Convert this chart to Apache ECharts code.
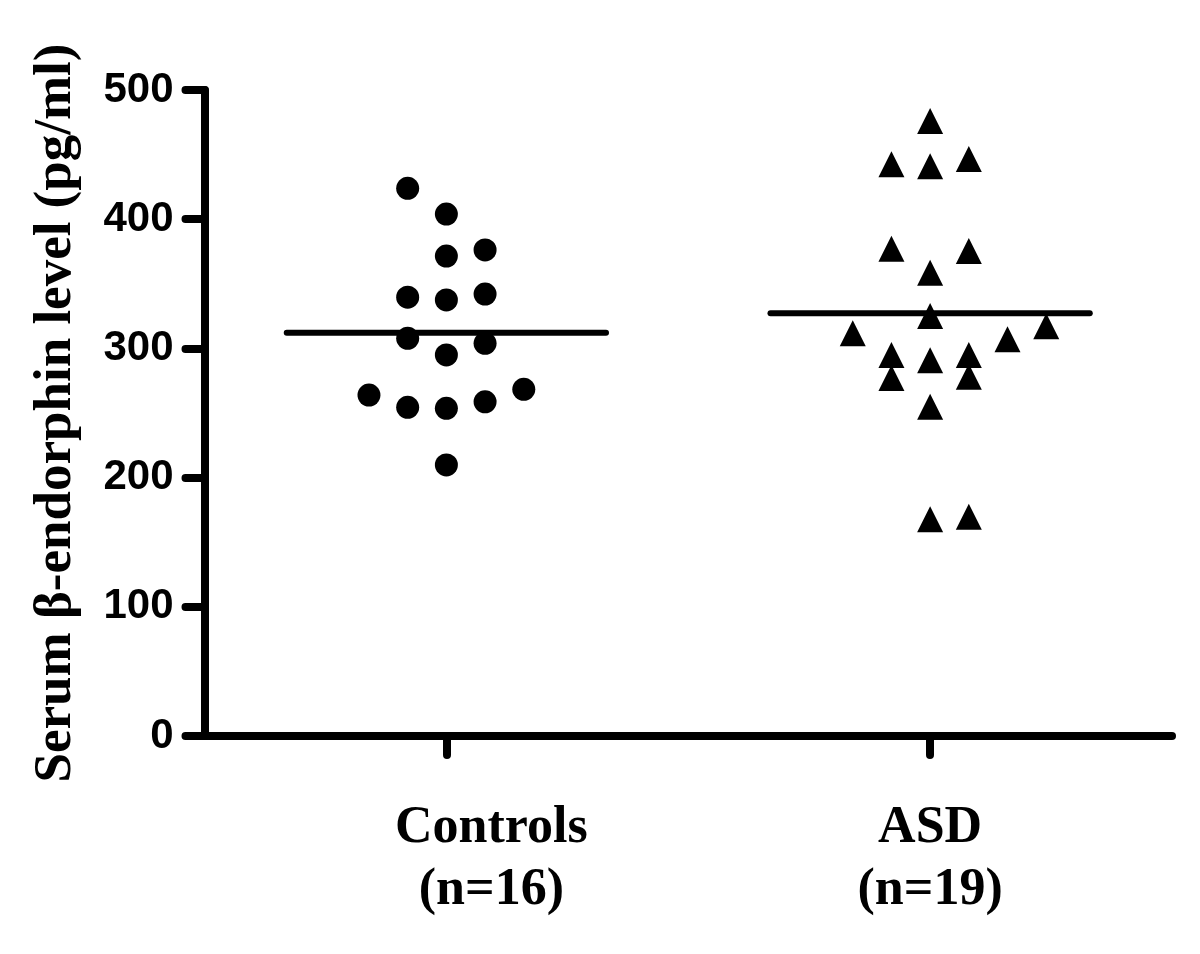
<!DOCTYPE html>
<html>
<head>
<meta charset="utf-8">
<script src="https://cdn.jsdelivr.net/npm/echarts@6/dist/echarts.min.js"></script>
<style>
html,body{margin:0;padding:0;background:#fff;}
#chart{width:1200px;height:954px;}
</style>
</head>
<body>
<div id="chart"></div>
<script>
// ---- data ----
const categories = ['Controls', 'ASD'];
const sampleSizes = [16, 19];
const yTicks = [0, 100, 200, 300, 400, 500];

const controlsValues = [423.9, 404.0, 371.5, 376.2, 339.6, 337.5, 342.1, 307.8, 294.9, 303.9, 263.9, 254.4, 253.6, 258.7, 268.3, 209.8];
const controlsColumn = [-1, 0, 0, 1, -1, 0, 1, -1, 0, 1, -2, -1, 0, 1, 2, 0];

const asdValues = [476.0, 442.6, 440.9, 446.6, 377.2, 375.4, 358.6, 325.1, 311.7, 294.9, 290.8, 294.9, 307.0, 317.1, 277.1, 278.1, 254.9, 167.7, 169.7];
const asdColumn = [0, -1, 0, 1, -1, 1, 0, 0, -2, -1, 0, 1, 2, 3, -1, 1, 0, 0, 1];

const groupMeans = [312.2, 327.2];

// ---- layout helpers ----
const COL_STEP = 0.08;   // horizontal spacing of jittered columns (category units)
const MEAN_HALF = 0.33;  // half-length of the mean bar (category units)

function points(values, cols, catIndex) {
  return values.map((v, i) => [catIndex + 1 + cols[i] * COL_STEP, v]);
}
function meanLine(catIndex) {
  const c = catIndex + 1;
  return [[c - MEAN_HALF, groupMeans[catIndex]], [c + MEAN_HALF, groupMeans[catIndex]]];
}

const chart = echarts.init(document.getElementById('chart'), null, {renderer: 'canvas'});
const serif = "'Liberation Serif', 'Times New Roman', serif";
const sans = "'Liberation Sans', Arial, sans-serif";
const axisLine = {show: true, lineStyle: {color: '#000', width: 8, cap: 'round'}};

chart.setOption({
  animation: false,
  backgroundColor: '#fff',
  grid: {left: 204.5, right: 28, top: 90, bottom: 218, containLabel: false},
  xAxis: [
    {
      type: 'category',
      data: categories,
      boundaryGap: true,
      axisLine: axisLine,
      axisTick: {show: true, alignWithLabel: true, length: 19, lineStyle: {color: '#000', width: 8, cap: 'round'}},
      splitLine: {show: false},
      axisLabel: {
        margin: 62,
        interval: 0,
        formatter: function (value, idx) {
          const style = idx === 0 ? 'shift' : 'plain';
          return '{' + style + '|' + value + '}\n{' + style + '|(n=' + sampleSizes[idx] + ')}';
        },
        rich: {
          plain: {fontFamily: serif, fontWeight: 'bold', fontSize: 52, lineHeight: 62, color: '#000'},
          shift: {fontFamily: serif, fontWeight: 'bold', fontSize: 52, lineHeight: 62, color: '#000', padding: [0, 0, 0, 90]}
        }
      }
    },
    {
      type: 'value',
      min: 0.5,
      max: 2.5,
      show: false,
      splitLine: {show: false}
    }
  ],
  yAxis: {
    type: 'value',
    min: yTicks[0],
    max: yTicks[yTicks.length - 1],
    interval: yTicks[1] - yTicks[0],
    axisLine: axisLine,
    axisTick: {show: true, length: 19, lineStyle: {color: '#000', width: 8, cap: 'round'}},
    splitLine: {show: false},
    axisLabel: {margin: 31, color: '#000', fontFamily: sans, fontWeight: 'bold', fontSize: 42},
    name: 'Serum \u03b2-endorphin level (pg/ml)',
    nameLocation: 'middle',
    nameGap: 122,
    nameTextStyle: {color: '#000', fontFamily: serif, fontWeight: 'bold', fontSize: 53}
  },
  series: [
    {
      name: categories[0],
      type: 'scatter',
      xAxisIndex: 1,
      symbol: 'circle',
      symbolSize: 23,
      itemStyle: {color: '#000', opacity: 1},
      emphasis: {disabled: true},
      data: points(controlsValues, controlsColumn, 0)
    },
    {
      name: categories[1],
      type: 'scatter',
      xAxisIndex: 1,
      symbol: 'triangle',
      symbolSize: 26,
      itemStyle: {color: '#000', opacity: 1},
      emphasis: {disabled: true},
      data: points(asdValues, asdColumn, 1)
    },
    {
      name: categories[0] + ' mean',
      type: 'line',
      xAxisIndex: 1,
      symbol: 'none',
      z: 3,
      lineStyle: {color: '#000', width: 6, cap: 'round'},
      data: meanLine(0)
    },
    {
      name: categories[1] + ' mean',
      type: 'line',
      xAxisIndex: 1,
      symbol: 'none',
      z: 3,
      lineStyle: {color: '#000', width: 6, cap: 'round'},
      data: meanLine(1)
    }
  ]
});
</script>
</body>
</html>
